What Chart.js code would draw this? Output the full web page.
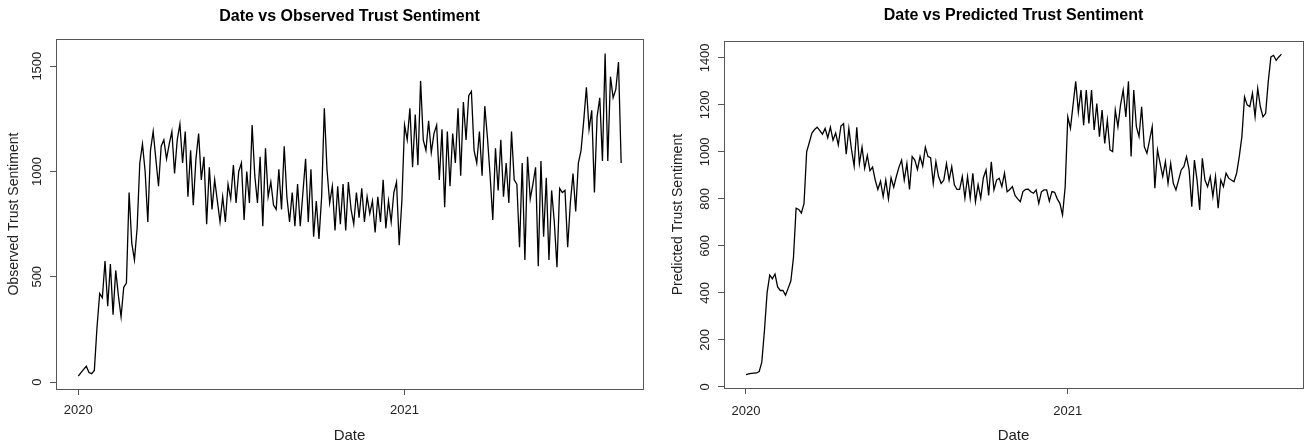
<!DOCTYPE html>
<html>
<head>
<meta charset="utf-8">
<title>Trust Sentiment</title>
<script src="https://cdn.jsdelivr.net/npm/chart.js@4"></script>
<style>
  html, body { margin: 0; padding: 0; background: #fff; }
  #wrap { position: relative; width: 1305px; height: 446px; }
  canvas { position: absolute; top: 0; }
  #left { left: 0; width: 652px; height: 446px; }
  #right { left: 652px; width: 653px; height: 446px; }
</style>
</head>
<body>
<div id="wrap">
  <canvas id="left" width="652" height="446"></canvas>
  <canvas id="right" width="653" height="446"></canvas>
</div>
<script>
// Daily sentiment, every 3rd day starting 2020-01-01
const startDate = '2020-01-01';
const stepDays = 3;

// x axis: days since start, labelled by year
const xTickDays = [0, 366];
const xTickLabels = ['2020', '2021'];

const observedTicks = [0, 500, 1000, 1500];
const predictedTicks = [0, 200, 400, 600, 800, 1000, 1200, 1400];

const observed = [
    28, 45, 60, 75, 45, 40, 55, 260, 420, 400,
    575, 360, 560, 320, 530, 410, 310, 450, 470, 900,
    660, 580, 730, 1040, 1130, 1000, 760, 1100, 1190, 1060,
    930, 1120, 1150, 1060, 1130, 1190, 990, 1150, 1225, 1040,
    1190, 880, 1100, 840, 1060, 1180, 960, 1070, 750, 1020,
    820, 960, 860, 760, 880, 760, 940, 870, 1030, 850,
    1000, 1040, 770, 1000, 850, 1220, 980, 850, 1070, 740,
    1110, 880, 950, 840, 820, 1010, 820, 1120, 880, 760,
    900, 740, 940, 740, 900, 1060, 760, 1010, 690, 860,
    680, 880, 1300, 1010, 850, 930, 720, 930, 750, 940,
    720, 950, 820, 750, 900, 780, 920, 760, 880, 800,
    860, 710, 880, 760, 960, 730, 860, 760, 900, 950,
    650, 860, 1220, 1150, 1300, 1020, 1270, 1030, 1430, 1150,
    1100, 1240, 1090, 1180, 1220, 960, 1200, 830, 1190, 930,
    1180, 1040, 1300, 980, 1330, 1150, 1360, 1380, 1100, 1040,
    1190, 980, 1310, 1160, 980, 770, 1110, 910, 1150, 880,
    1040, 850, 1190, 960, 940, 640, 1040, 580, 1070, 870,
    940, 1020, 550, 1050, 690, 970, 580, 910, 760, 545,
    920, 900, 910, 640, 850, 990, 810, 1040, 1100, 1240,
    1400, 1200, 1290, 900, 1260, 1350, 1050, 1560, 1050, 1450,
    1350, 1390, 1520, 1040
];

const predicted = [
    52, 55, 57, 58, 59, 65, 105, 240, 400, 475,
    460, 480, 425, 410, 410, 390, 420, 450, 550, 760,
    755, 740, 780, 1000, 1040, 1080, 1095, 1105, 1090, 1075,
    1100, 1060, 1105, 1050, 1080, 1030, 1110, 1120, 990, 1100,
    1010, 940, 1105, 950, 1020, 930, 985, 920, 935, 880,
    840, 875, 810, 880, 800, 890, 850, 895, 935, 965,
    880, 950, 840, 980, 965, 925, 980, 940, 1020, 980,
    975, 866, 958, 895, 866, 880, 950, 880, 937, 860,
    840, 840, 895, 803, 895, 803, 909, 788, 860, 803,
    890, 923, 815, 958, 838, 880, 888, 852, 909, 830,
    840, 852, 815, 800, 788, 831, 840, 841, 830, 824,
    838, 781, 830, 838, 838, 790, 831, 828, 800, 781,
    732, 850, 1149, 1100, 1200, 1300, 1170, 1263, 1114, 1263,
    1121, 1263, 1093, 1206, 1065, 1178, 1036, 1135, 1008, 1001,
    1178, 1107, 1200, 1263, 1149, 1300, 980, 1263, 1107, 1065,
    1192, 1022, 994, 1050, 1107, 845, 1008, 951, 895, 958,
    866, 951, 866, 838, 880, 923, 937, 980, 923, 767,
    965, 880, 753, 973, 880, 852, 895, 810, 895, 760,
    880, 852, 909, 888, 880, 873, 909, 980, 1065, 1234,
    1200, 1192, 1249, 1150, 1270, 1192, 1149, 1164, 1300, 1404,
    1411, 1390, 1404, 1416
];

const FONT = "'Liberation Sans', Arial, Helvetica, sans-serif";
const AXIS_COLOR = '#555';
const TEXT_COLOR = '#222';

// R draws a full box round the plot region
const boxPlugin = {
    id: 'rbox',
    afterDatasetsDraw(chart) {
        const a = chart.chartArea;
        const ctx = chart.ctx;
        ctx.save();
        ctx.strokeStyle = AXIS_COLOR;
        ctx.lineWidth = 1;
        ctx.strokeRect(Math.round(a.left) + 0.5, Math.round(a.top) + 0.5,
            Math.round(a.right - a.left), Math.round(a.bottom - a.top));
        ctx.restore();
    }
};

function toPoints(values) {
    return values.map((v, i) => ({ x: i * stepDays, y: v }));
}

function makeChart(id, cfg) {
    return new Chart(document.getElementById(id), {
        type: 'line',
        data: {
            datasets: [{
                data: toPoints(cfg.values),
                borderColor: '#000',
                borderWidth: 1.3,
                pointRadius: 0,
                tension: 0,
                fill: false
            }]
        },
        options: {
            responsive: false,
            animation: false,
            events: [],
            layout: { padding: { left: 0, right: cfg.padRight, top: 0, bottom: 0 } },
            plugins: {
                legend: { display: false },
                tooltip: { enabled: false },
                title: {
                    display: true,
                    text: cfg.title,
                    fullSize: false,
                    color: '#000',
                    font: { family: FONT, size: 16, weight: 'bold' },
                    padding: { top: cfg.titleTop, bottom: cfg.titleBottom }
                }
            },
            scales: {
                x: {
                    type: 'linear',
                    min: -25,
                    max: 633.5,
                    afterBuildTicks: s => { s.ticks = xTickDays.map(v => ({ value: v })); },
                    afterFit: s => { s.height = cfg.xAxisHeight; },
                    grid: { drawOnChartArea: false, drawTicks: true, tickLength: 6, tickColor: AXIS_COLOR },
                    border: { display: false },
                    ticks: {
                        callback: (v, i) => xTickLabels[i],
                        color: TEXT_COLOR,
                        font: { family: FONT, size: 13 },
                        padding: cfg.xTickPad,
                        maxRotation: 0,
                        autoSkip: false
                    },
                    title: {
                        display: true,
                        text: 'Date',
                        color: TEXT_COLOR,
                        font: { family: FONT, size: 15 },
                        padding: { top: 0, bottom: 1 }
                    }
                },
                y: {
                    type: 'linear',
                    min: cfg.yMin,
                    max: cfg.yMax,
                    afterBuildTicks: s => { s.ticks = cfg.yTicks.map(v => ({ value: v })); },
                    afterFit: s => { s.width = cfg.yAxisWidth; },
                    grid: { drawOnChartArea: false, drawTicks: true, tickLength: 6, tickColor: AXIS_COLOR },
                    border: { display: false },
                    ticks: {
                        callback: v => String(v),
                        minRotation: 90,
                        maxRotation: 90,
                        crossAlign: 'center',
                        padding: -2,
                        autoSkip: false,
                        color: TEXT_COLOR,
                        font: { family: FONT, size: 13 }
                    },
                    title: {
                        display: true,
                        text: cfg.yTitle,
                        color: TEXT_COLOR,
                        font: { family: FONT, size: 14 },
                        padding: { top: cfg.yTitlePad, bottom: 0 }
                    }
                }
            }
        },
        plugins: [boxPlugin]
    });
}

makeChart('left', {
    values: observed,
    title: 'Date vs Observed Trust Sentiment',
    yTitle: 'Observed Trust Sentiment',
    yTicks: observedTicks,
    yMin: -33,
    yMax: 1628,
    padRight: 9,
    titleTop: 7,
    titleBottom: 13,
    xAxisHeight: 57,
    xTickPad: 8,
    yAxisWidth: 56,
    yTitlePad: 5.6
});

makeChart('right', {
    values: predicted,
    title: 'Date vs Predicted Trust Sentiment',
    yTitle: 'Predicted Trust Sentiment',
    yTicks: predictedTicks,
    yMin: -5,
    yMax: 1471,
    padRight: 2,
    titleTop: 6,
    titleBottom: 16,
    xAxisHeight: 58,
    xTickPad: 9.5,
    yAxisWidth: 72,
    yTitlePad: 18
});
</script>
</body>
</html>
